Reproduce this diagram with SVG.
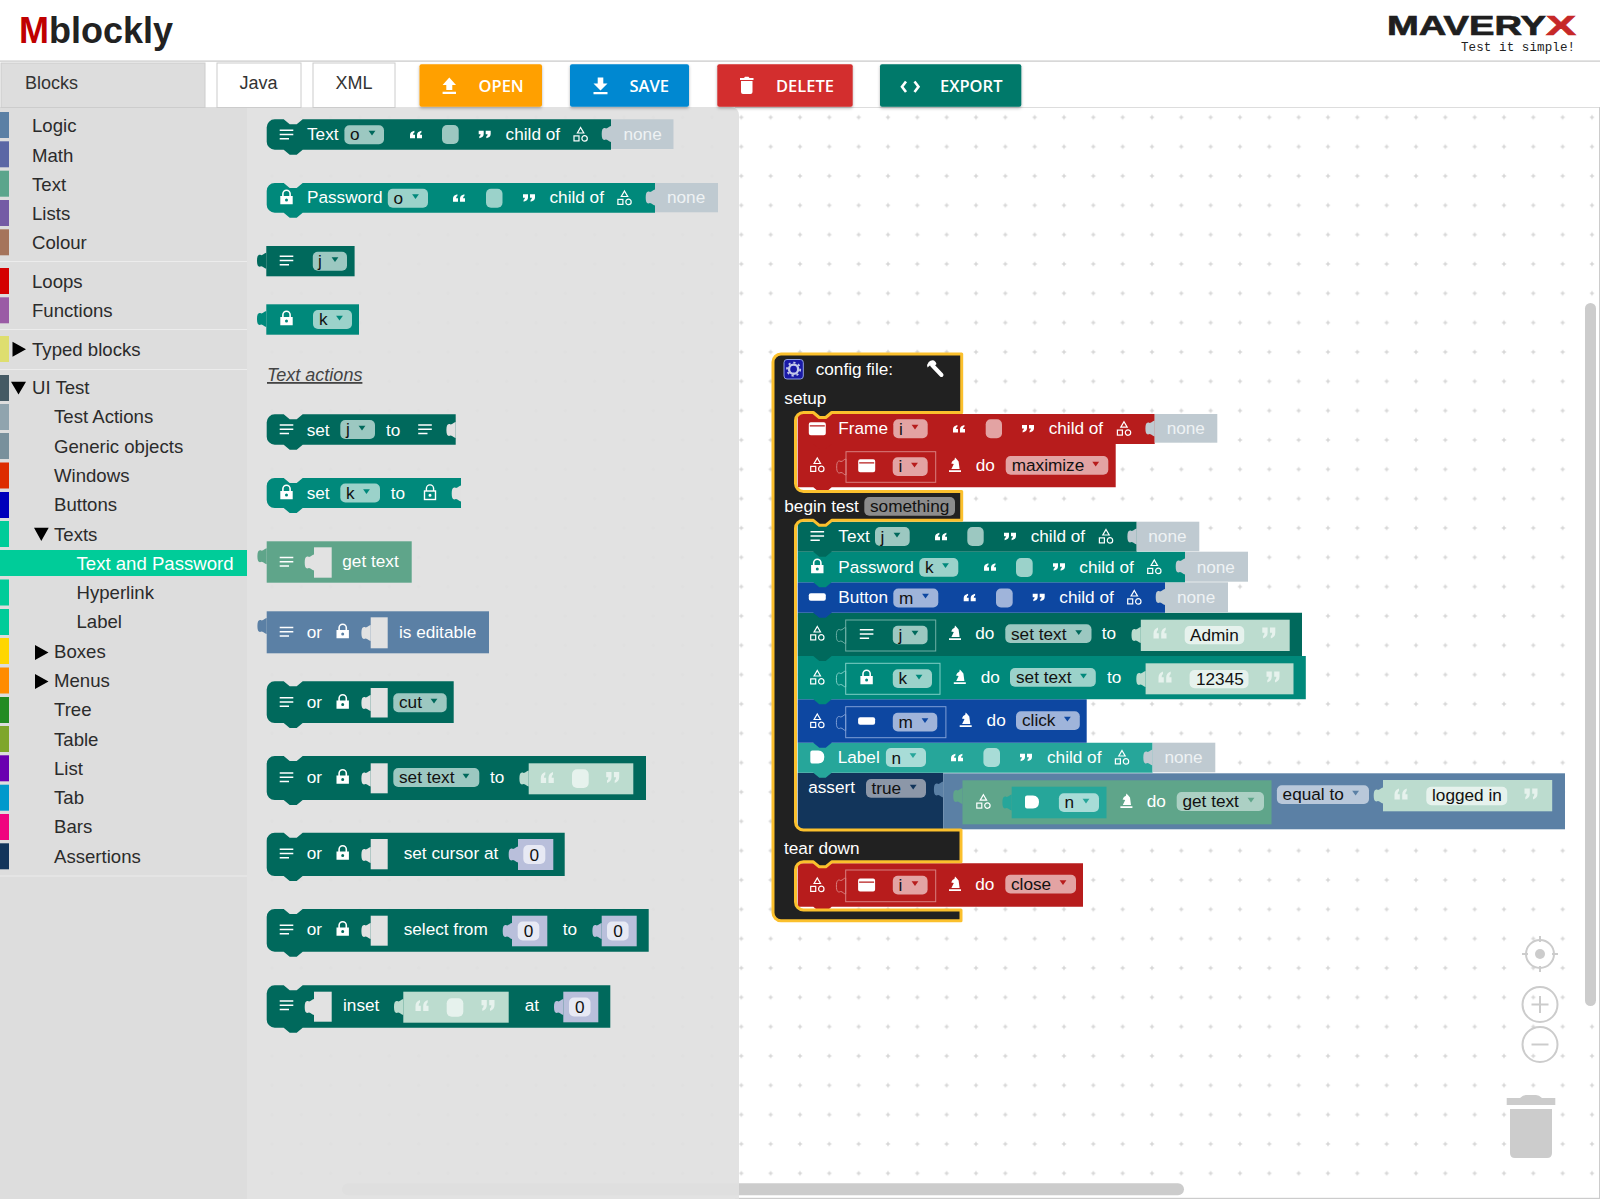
<svg xmlns="http://www.w3.org/2000/svg" width="1600" height="1199" viewBox="0 0 1600 1199">
<style>
text{font-family:"Liberation Sans",Arial,sans-serif;font-size:17.2px}
.w{fill:#fff}.k{fill:#111}.n{fill:#eef2f4}
.t{font-size:18.6px;fill:#2b2b2b}
.tab{font-size:18px;fill:#333}
.btn{font-family:"Open Sans","Liberation Sans",sans-serif;font-size:16.5px;font-weight:600;fill:#fff}
.fT{fill:#9cc8c1}.fP{fill:#9bd2ca}.fR{fill:#e3a3a3}.fB{fill:#9fb4da}.fL{fill:#a8dcd7}.fG{fill:#acd0c4}.fS{fill:#b9c8da}
.cT{fill:#00695c}.cP{fill:#00897b}.cR{fill:#b71c1c}.cB{fill:#0d47a1}.cL{fill:#26a69a}.cA{fill:#12355b}.cG{fill:#5fa58a}.cV{fill:#5b80a5}
.none{fill:#bfcad1}.lit{fill:#bcdccf}.litf{fill:#e6f2ed}.num{fill:#b9bfdb}.numf{fill:#e7e9f4}
.hole{fill:#e2e2e2}
.box{fill:none;stroke-width:1}
.sb{fill:#ccc}
.zc{fill:none;stroke:#ccc;stroke-width:2}
</style>
<defs>
<pattern id="grid" width="29.333" height="29.333" patternUnits="userSpaceOnUse" patternTransform="translate(-6.667,-14.667)">
<path d="M14.67,12.5v4.33M12.5,14.67h4.33" stroke="#ccc" stroke-width="1" fill="none"/>
</pattern>
<filter id="sh" x="-5%" y="-10%" width="110%" height="125%"><feDropShadow dx="0" dy="1.5" stdDeviation="1.5" flood-color="#000" flood-opacity=".3"/></filter>
<path id="tb" d="M0,0C-2,0 -3,2.5 -5,2.5C-8,1 -9.3,3 -9.3,8C-9.3,13 -8,15 -5,13.5C-3,13.5 -2,16 0,16Z"/>
<path id="tri" d="M-3.4,-2.2H3.4L0,2.6Z"/>
<g id="i-lines" fill="none" stroke="#fff" stroke-width="1.5"><path d="M-6.8,-4.2H6.8M-6.8,0H6.8M-6.8,4.2H2.5"/></g>
<path id="i-lock" fill="#fff" fill-rule="evenodd" d="M-6.2,-1H-4.4V-3.2A4.4,4.4 0 0 1 4.4,-3.2V-1H6.2V7.2H-6.2ZM-2.8,-1H2.8V-3.2A2.8,2.8 0 0 0 -2.8,-3.2ZM0,1.6A1.5,1.5 0 1 0 0,4.6A1.5,1.5 0 1 0 0,1.6Z"/>
<g id="i-lock2" fill="none" stroke="#fff" stroke-width="1.4"><rect x="-5.5" y="-1.5" width="11" height="8.5"/><path d="M-3.6,-1.5V-4A3.6,3.6 0 0 1 3.6,-4V-1.5"/><circle cx="0" cy="2.8" r=".8" fill="#fff"/></g>
<g id="i-tree" fill="none" stroke="#fff" stroke-width="1.2"><path d="M0,-7L3.2,-1.5H-3.2Z"/><rect x="-6.6" y="1.4" width="5" height="5"/><circle cx="4" cy="3.9" r="2.7"/></g>
<path id="i-win" fill="#fff" fill-rule="evenodd" d="M-6.5,-6.5H6.5A2,2 0 0 1 8.5,-4.5V4.5A2,2 0 0 1 6.5,6.5H-6.5A2,2 0 0 1 -8.5,4.5V-4.5A2,2 0 0 1 -6.5,-6.5ZM-7.5,-3.5V-2.3H7.5V-3.5Z"/>
<rect id="i-btn" x="-8.5" y="-3.8" width="17" height="7.6" rx="2" fill="#fff"/>
<path id="i-lab" fill="#fff" d="M-5,-6.5H1Q7,-6 7,0Q7,6 1,6.5H-5Q-7,6.5 -7,4.5V-4.5Q-7,-6.5 -5,-6.5Z"/>
<path id="i-ch" fill="#fff" d="M-6,5.2H6V7H-6ZM-3.6,4L-1.2,-1L-3.8,-1.6L-2.5,-4L-0.5,-5.2L0,-7.5L1.5,-6L3.6,-3.5L4.6,4Z"/>
<path id="qo" d="M-6.5,5.5V0.5Q-6.5,-4 -2,-5.5V-3Q-3.5,-2 -3.3,0.3H-1.2V5.5ZM1.2,5.5V0.5Q1.2,-4 5.7,-5.5V-3Q4.2,-2 4.4,0.3H6.5V5.5Z"/>
<path id="qc" d="M6.5,-5.5V-0.5Q6.5,4 2,5.5V3Q3.5,2 3.3,-0.3H1.2V-5.5ZM-1.2,-5.5V-0.5Q-1.2,4 -5.7,5.5V3Q-4.2,2 -4.4,-0.3H-6.5V-5.5Z"/>
<path id="qs" fill="#fff" d="M-6,3.8V0.4Q-6,-2.8 -1.6,-3.8V-2Q-3,-1.4 -2.9,0.2H-1V3.8ZM1,3.8V0.4Q1,-2.8 5.4,-3.8V-2Q4,-1.4 4.1,0.2H6V3.8Z"/>
<path id="qe" fill="#fff" d="M6,-3.8V-0.4Q6,2.8 1.6,3.8V2Q3,1.4 2.9,-0.2H1V-3.8ZM-1,-3.8V-0.4Q-1,2.8 -5.4,3.8V2Q-4,1.4 -4.1,-0.2H-6V-3.8Z"/>
</defs>

<rect id="page" width="1600" height="1199" fill="#fff"/>

<g id="header">
<text x="19" y="43" font-weight="700" style="font-size:36px" fill="#222"><tspan fill="#c00000">M</tspan>blockly</text>
<g id="logo">
<text x="1387" y="34.6" style="font-size:28px" font-weight="700" fill="#1f1f1f" stroke="#1f1f1f" stroke-width=".7" textLength="159" lengthAdjust="spacingAndGlyphs">MAVERY</text>
<text x="1546" y="34.6" style="font-size:28px" font-weight="700" fill="#c62828" stroke="#c62828" stroke-width=".7" textLength="30" lengthAdjust="spacingAndGlyphs">X</text>
<text x="1461" y="51" style="font-family:'Liberation Mono',monospace;font-size:12.5px" fill="#222" textLength="114">Test it simple!</text>
</g>
<rect y="60.5" width="1600" height="1.2" fill="#c8c8c8"/>
</g>

<g id="workspace">
<rect x="247" y="107" width="1353" height="1092" fill="#fff"/>
<rect x="247" y="107" width="1353" height="1092" fill="url(#grid)"/>
<rect x="735" y="107" width="865" height="1" fill="#ddd"/>
<rect x="735" y="1197.8" width="865" height="1.2" fill="#ccc"/>
<rect x="1599" y="107" width="1" height="1092" fill="#ccc"/>
</g>

<g id="trash-zoom">
<path fill="#ccc" d="M1506.7,1098H1520Q1523,1095 1526,1095H1536Q1539,1095 1542,1098H1555.3V1105H1506.7Z"/>
<path fill="#ccc" d="M1510,1109H1552V1153Q1552,1158 1547,1158H1515Q1510,1158 1510,1153Z"/>
<circle class="zc" cx="1540" cy="954" r="14"/><circle cx="1540" cy="954" r="5" fill="#ccc"/>
<path class="zc" d="M1540,936v6M1540,966v6M1522,954h6M1552,954h6" stroke-width="1.6"/>
<circle class="zc" cx="1540" cy="1004.5" r="17.5"/><path class="zc" d="M1531.5,1004.5h17M1540,996v17"/>
<circle class="zc" cx="1540" cy="1044.5" r="17.5"/><path class="zc" d="M1531.5,1044.5h17"/>
</g>

<rect id="vscroll" class="sb" x="1585" y="303" width="11" height="703" rx="5.5"/>
<rect id="hscroll" class="sb" x="342" y="1183.3" width="842" height="12" rx="6"/>

<path id="flyout" d="M247,107H731a8,8 0 0 1 8,8V1199H247Z" fill="#e0e0e0" fill-opacity=".93"/>

<g id="toolbox">
<rect y="107" width="247" height="1092" fill="#ddd"/>
<rect y="261" width="247" height="1" fill="#ececec"/><rect y="329" width="247" height="1" fill="#ececec"/><rect y="369" width="247" height="1" fill="#ececec"/><rect y="875.5" width="247" height="1" fill="#ececec"/>
<rect y="112" width="9" height="26" fill="#5b80a5"/><rect y="141.3" width="9" height="26" fill="#5b67a5"/><rect y="170.7" width="9" height="26" fill="#5ba58c"/><rect y="200" width="9" height="26" fill="#745ba5"/><rect y="229.3" width="9" height="26" fill="#a5745b"/>
<rect y="268" width="9" height="26" fill="#d40000"/><rect y="297.3" width="9" height="26" fill="#9a5ba5"/>
<rect y="336" width="9" height="26" fill="#dede6f"/>
<rect y="375" width="9" height="26" fill="#455a64"/><rect y="404" width="9" height="26" fill="#90a4ae"/><rect y="433" width="9" height="26" fill="#78909c"/><rect y="462.5" width="9" height="26" fill="#dd2c00"/><rect y="492" width="9" height="26" fill="#0000bb"/><rect y="521" width="9" height="26" fill="#00cc99"/>
<rect y="550" width="247" height="26" fill="#00cc99"/>
<rect y="579.5" width="9" height="26" fill="#00cc99"/><rect y="609" width="9" height="26" fill="#00cc99"/><rect y="638" width="9" height="26" fill="#ffd600"/><rect y="667.5" width="9" height="26" fill="#ff8c00"/><rect y="697" width="9" height="26" fill="#228b22"/><rect y="726" width="9" height="26" fill="#7ea62b"/><rect y="755.3" width="9" height="26" fill="#6a00b0"/><rect y="784.7" width="9" height="26" fill="#0099cc"/><rect y="814" width="9" height="26" fill="#f0047f"/><rect y="843.3" width="9" height="26" fill="#12355b"/>
<path d="M12.5,341.7L26,349.2L12.5,356.7Z M11,381.7H26L18.5,394.5Z M34,527.7H48.7L41.3,541Z M35,645L48.5,652.5L35,660Z M35,674L48.5,681.5L35,689Z" fill="#000"/>
<text class="t" x="32" y="132">Logic</text><text class="t" x="32" y="161.5">Math</text><text class="t" x="32" y="190.7">Text</text><text class="t" x="32" y="220">Lists</text><text class="t" x="32" y="249.3">Colour</text>
<text class="t" x="32" y="288">Loops</text><text class="t" x="32" y="317.3">Functions</text><text class="t" x="32" y="355.7">Typed blocks</text><text class="t" x="32" y="394.3">UI Test</text>
<text class="t" x="54" y="423.3">Test Actions</text><text class="t" x="54" y="452.7">Generic objects</text><text class="t" x="54" y="482">Windows</text><text class="t" x="54" y="511">Buttons</text><text class="t" x="54" y="540.5">Texts</text>
<text class="t" x="76.5" y="570" style="fill:#fff">Text and Password</text><text class="t" x="76.5" y="599">Hyperlink</text><text class="t" x="76.5" y="628.3">Label</text>
<text class="t" x="54" y="657.5">Boxes</text><text class="t" x="54" y="686.8">Menus</text><text class="t" x="54" y="716">Tree</text><text class="t" x="54" y="745.5">Table</text><text class="t" x="54" y="775">List</text><text class="t" x="54" y="804">Tab</text><text class="t" x="54" y="833.3">Bars</text><text class="t" x="54" y="862.5">Assertions</text>
</g>

<g id="tabs">
<rect x="1" y="63" width="204" height="44.5" fill="#ddd" stroke="#ccc"/><text class="tab" x="25" y="89">Blocks</text>
<rect x="217" y="63" width="84" height="44.5" fill="#fff" stroke="#ccc"/><text class="tab" x="258.5" y="89" text-anchor="middle">Java</text>
<rect x="313" y="63" width="82" height="44.5" fill="#fff" stroke="#ccc"/><text class="tab" x="354" y="89" text-anchor="middle">XML</text>
</g>
<g id="buttons">
<g id="btn-open"><rect x="419.5" y="64.3" width="122.5" height="42.4" rx="2" fill="#ffa000" filter="url(#sh)"/><path d="M449.3,77.5L456,85H452.3V90H446.3V85H442.6ZM442.6,91.7H456V94H442.6Z" fill="#fff"/><text class="btn" x="478.5" y="91.5">OPEN</text></g>
<g id="btn-save"><rect x="570" y="64.3" width="119" height="42.4" rx="2" fill="#0288d1" filter="url(#sh)"/><path d="M597.7,77.5H603.3V83.5H607.5L600.5,90.5L593.5,83.5H597.7ZM593.5,92H607.5V94.3H593.5Z" fill="#fff"/><text class="btn" x="629.5" y="91.5">SAVE</text></g>
<g id="btn-delete"><rect x="717.3" y="64.3" width="135.4" height="42.4" rx="2" fill="#d32f2f" filter="url(#sh)"/><path d="M741,81H752.5V92Q752.5,94 750.5,94H743Q741,94 741,92ZM740,78H744L745,76.7H748.5L749.5,78H753.5V80H740Z" fill="#fff"/><text class="btn" x="776" y="91.5">DELETE</text></g>
<g id="btn-export"><rect x="880" y="64.3" width="141.3" height="42.4" rx="2" fill="#00796b" filter="url(#sh)"/><path d="M906,81.5L902,86.7L906,92M914.5,81.5L918.5,86.7L914.5,92" fill="none" stroke="#fff" stroke-width="2.6"/><text class="btn" x="940" y="91.5">EXPORT</text></g>
</g>

<g id="flyout-blocks">
<g id="f-text">
<path class="cT" d="M266.7,127.3a8,8 0 0 1 8,-8h9l6,5h7l6,-5H611V149.7H302.7l-6,5h-7l-6,-5H274.7a8,8 0 0 1 -8,-8z"/>
<rect class="none" x="611" y="119.3" width="62.5" height="29.7"/><use href="#tb" x="611" y="126" class="none"/>
<use href="#i-lines" x="286.5" y="134.5"/><text class="w" x="307" y="139.5">Text</text>
<rect class="fT" x="344.4" y="125.3" width="39.6" height="19" rx="5"/><text class="k" x="350" y="140">o</text><use href="#tri" x="372" y="133" class="cT"/>
<use href="#qs" x="416" y="134.5"/><rect class="fT" x="442" y="125" width="16.7" height="19" rx="5"/><use href="#qe" x="484.7" y="134.5"/>
<text class="w" x="505.6" y="139.5">child of</text><use href="#i-tree" x="580.6" y="134.5"/><text class="n" x="623.5" y="139.5">none</text>
</g>
<g id="f-password">
<path class="cP" d="M266.7,191a8,8 0 0 1 8,-8h9l6,5h7l6,-5H655V212.7H302.7l-6,5h-7l-6,-5H274.7a8,8 0 0 1 -8,-8z"/>
<rect class="none" x="655" y="183" width="63" height="29.3"/><use href="#tb" x="655" y="189.5" class="none"/>
<use href="#i-lock" x="286.5" y="197"/><text class="w" x="307" y="203">Password</text>
<rect class="fP" x="387.8" y="188.7" width="40.2" height="19" rx="5"/><text class="k" x="393.5" y="203.5">o</text><use href="#tri" x="415.5" y="196.5" class="cP"/>
<use href="#qs" x="459" y="198"/><rect class="fP" x="486" y="188.7" width="16.5" height="19" rx="5"/><use href="#qe" x="529" y="198"/>
<text class="w" x="549.5" y="203">child of</text><use href="#i-tree" x="624.5" y="198"/><text class="n" x="667" y="203">none</text>
</g>
<g id="f-j"><use href="#tb" x="266.3" y="252.7" class="cT"/><rect class="cT" x="266.3" y="246" width="88.3" height="30.3"/><use href="#i-lines" x="286.5" y="260.5"/><rect class="fT" x="312.8" y="251.7" width="34.2" height="19" rx="5"/><text class="k" x="318" y="266.5">j</text><use href="#tri" x="335" y="259.5" class="cT"/></g>
<g id="f-k"><use href="#tb" x="266.3" y="311" class="cP"/><rect class="cP" x="266.3" y="304.3" width="92.7" height="30.4"/><use href="#i-lock" x="286.5" y="318"/><rect class="fP" x="313" y="310" width="39" height="19" rx="5"/><text class="k" x="319" y="325">k</text><use href="#tri" x="339.5" y="318" class="cP"/></g>
<text id="f-caption" x="267" y="381" style="font-size:18px;font-style:italic;text-decoration:underline" fill="#444">Text actions</text>
<g id="f-set-j">
<path class="cT" d="M266.7,422.3a8,8 0 0 1 8,-8h9l6,5h7l6,-5H455.7V444.7H302.7l-6,5h-7l-6,-5H274.7a8,8 0 0 1 -8,-8z"/>
<use href="#tb" x="455.7" y="422" fill="#e1e1e1"/>
<use href="#i-lines" x="286.5" y="429.3"/><text class="w" x="306.7" y="435.5">set</text>
<rect class="fT" x="340.3" y="420" width="34.7" height="19" rx="5"/><text class="k" x="346" y="435">j</text><use href="#tri" x="362" y="428" class="cT"/>
<text class="w" x="386" y="435.5">to</text><use href="#i-lines" x="425" y="429.3"/>
</g>
<g id="f-set-k">
<path class="cP" d="M266.7,486a8,8 0 0 1 8,-8h9l6,5h7l6,-5H461V508H302.7l-6,5h-7l-6,-5H274.7a8,8 0 0 1 -8,-8z"/>
<use href="#tb" x="461" y="485.5" fill="#e1e1e1"/>
<use href="#i-lock" x="286.5" y="492"/><text class="w" x="306.7" y="498.5">set</text>
<rect class="fP" x="340.3" y="483.5" width="39.7" height="19" rx="5"/><text class="k" x="346" y="498.5">k</text><use href="#tri" x="366.5" y="491.5" class="cP"/>
<text class="w" x="390.7" y="498.5">to</text><use href="#i-lock2" x="430" y="492.5"/>
</g>
<g id="f-get-text">
<use href="#tb" x="266.7" y="548.3" class="cG"/><rect class="cG" x="266.7" y="541.3" width="145" height="41.4"/>
<use href="#i-lines" x="286.5" y="561.7"/><rect class="hole" x="314" y="547.3" width="17.7" height="30.4"/><use href="#tb" x="314" y="554.5" class="hole"/>
<text class="w" x="342.3" y="567">get text</text>
</g>
<g id="f-is-editable">
<use href="#tb" x="266.7" y="618" class="cV"/><rect class="cV" x="266.7" y="611.3" width="222.3" height="42"/>
<use href="#i-lines" x="286.5" y="631.7"/><text class="w" x="306.7" y="637.5">or</text><use href="#i-lock" x="342.7" y="631"/>
<rect class="hole" x="370.7" y="617.3" width="17" height="31"/><use href="#tb" x="370.7" y="625" class="hole"/>
<text class="w" x="399" y="637.5">is editable</text>
</g>
<g id="f-cut">
<path class="cT" d="M266.7,689.3a8,8 0 0 1 8,-8h9l6,5h7l6,-5H453.7V723H302.7l-6,5h-7l-6,-5H274.7a8,8 0 0 1 -8,-8z"/>
<use href="#i-lines" x="286.5" y="702"/><text class="w" x="306.7" y="708">or</text><use href="#i-lock" x="342.7" y="701.5"/>
<rect class="hole" x="370.7" y="688" width="17" height="29.5"/><use href="#tb" x="370.7" y="695" class="hole"/>
<rect class="fT" x="393.3" y="693.3" width="53.4" height="19" rx="5"/><text class="k" x="399" y="708">cut</text><use href="#tri" x="434" y="701" class="cT"/>
</g>
<g id="f-set-text">
<path class="cT" d="M266.7,764a8,8 0 0 1 8,-8h9l6,5h7l6,-5H646V800H302.7l-6,5h-7l-6,-5H274.7a8,8 0 0 1 -8,-8z"/>
<use href="#i-lines" x="286.5" y="777.3"/><text class="w" x="306.7" y="783">or</text><use href="#i-lock" x="342.7" y="776.5"/>
<rect class="hole" x="370.7" y="763.3" width="17" height="30"/><use href="#tb" x="370.7" y="770.5" class="hole"/>
<rect class="fT" x="393.3" y="768" width="86" height="19" rx="5"/><text class="k" x="399" y="783">set text</text><use href="#tri" x="466" y="776" class="cT"/>
<text class="w" x="490" y="783">to</text>
<rect class="lit" x="528.7" y="763.3" width="104.6" height="31"/><use href="#tb" x="528.7" y="770.5" class="lit"/>
<use href="#qo" x="547.3" y="777.5" class="litf"/><rect class="litf" x="572" y="769.3" width="16.7" height="18.7" rx="5"/><use href="#qc" x="612.7" y="777.5" class="litf"/>
</g>
<g id="f-set-cursor">
<path class="cT" d="M266.7,840.7a8,8 0 0 1 8,-8h9l6,5h7l6,-5H564.7V876H302.7l-6,5h-7l-6,-5H274.7a8,8 0 0 1 -8,-8z"/>
<use href="#i-lines" x="286.5" y="853.5"/><text class="w" x="306.7" y="859">or</text><use href="#i-lock" x="342.7" y="852.5"/>
<rect class="hole" x="370.7" y="839" width="17" height="30.3"/><use href="#tb" x="370.7" y="847" class="hole"/>
<text class="w" x="403.7" y="859">set cursor at</text>
<rect class="num" x="518" y="839" width="35.3" height="31"/><use href="#tb" x="518" y="846.5" class="num"/><rect class="numf" x="523.3" y="845" width="22" height="19" rx="5"/><text class="k" x="534.3" y="860.5" text-anchor="middle">0</text>
</g>
<g id="f-select">
<path class="cT" d="M266.7,917a8,8 0 0 1 8,-8h9l6,5h7l6,-5H648.7V951.7H302.7l-6,5h-7l-6,-5H274.7a8,8 0 0 1 -8,-8z"/>
<use href="#i-lines" x="286.5" y="929.5"/><text class="w" x="306.7" y="935">or</text><use href="#i-lock" x="342.7" y="928.5"/>
<rect class="hole" x="370.7" y="915.7" width="17" height="30"/><use href="#tb" x="370.7" y="923" class="hole"/>
<text class="w" x="403.7" y="935">select from</text>
<rect class="num" x="512" y="915.7" width="35.3" height="30.6"/><use href="#tb" x="512" y="923" class="num"/><rect class="numf" x="517.7" y="921.5" width="21.6" height="19" rx="5"/><text class="k" x="528.5" y="937" text-anchor="middle">0</text>
<text class="w" x="562.7" y="935">to</text>
<rect class="num" x="601.7" y="915.7" width="35" height="30.6"/><use href="#tb" x="601.7" y="923" class="num"/><rect class="numf" x="607" y="921.5" width="21.6" height="19" rx="5"/><text class="k" x="618" y="937" text-anchor="middle">0</text>
</g>
<g id="f-inset">
<path class="cT" d="M266.7,993.3a8,8 0 0 1 8,-8h9l6,5h7l6,-5H610.3V1027.7H302.7l-6,5h-7l-6,-5H274.7a8,8 0 0 1 -8,-8z"/>
<use href="#i-lines" x="286.5" y="1005.3"/><rect class="hole" x="314" y="991.7" width="17.7" height="30"/><use href="#tb" x="314" y="999" class="hole"/>
<text class="w" x="343" y="1011">inset</text>
<rect class="lit" x="403.3" y="991.7" width="105.4" height="31"/><use href="#tb" x="403.3" y="999" class="lit"/>
<use href="#qo" x="422" y="1005.5" class="litf"/><rect class="litf" x="446.7" y="998.3" width="16.6" height="18.4" rx="5"/><use href="#qc" x="488" y="1005.5" class="litf"/>
<text class="w" x="524.7" y="1011">at</text>
<rect class="num" x="563.3" y="991.7" width="35" height="30.6"/><use href="#tb" x="563.3" y="999" class="num"/><rect class="numf" x="569" y="997.5" width="21.5" height="19" rx="5"/><text class="k" x="579.7" y="1013" text-anchor="middle">0</text>
</g>
</g>

<g id="config-stack">
<g id="w-close">
<path class="cR" d="M797.7,863.3H1083V906.7H831.7l-6,5h-6.4l-6,-5H797.7Z"/>
<use href="#i-tree" x="817.3" y="885"/><use href="#tb" x="845.7" y="878" fill="none" stroke="#d87f7f"/><rect class="box" x="845.7" y="870" width="90" height="31.7" stroke="#d87f7f"/>
<use href="#i-win" x="866.6" y="885"/><rect class="fR" x="892.8" y="875.7" width="34.8" height="18.7" rx="5"/><text class="k" x="898.5" y="890.5">i</text><use href="#tri" x="915" y="883.5" class="cR"/>
<use href="#i-ch" x="955" y="884"/><text class="w" x="975.3" y="890">do</text>
<rect class="fR" x="1005.3" y="874.7" width="70.7" height="18.7" rx="5"/><text class="k" x="1011" y="890">close</text><use href="#tri" x="1063" y="882.5" class="cR"/>
</g>

<g id="w-assert">
<path class="cA" d="M797.7,772.7H943.2V829.3H831.7l-6,5h-6.4l-6,-5H797.7Z"/>
<rect class="cV" x="943.2" y="773.3" width="621.8" height="56"/><use href="#tb" x="943.2" y="781.5" class="cV"/>
<text class="w" x="808.2" y="793.3">assert</text>
<rect x="866" y="779" width="60" height="18.7" rx="5" fill="#8c97a8"/><text class="k" x="871.5" y="794">true</text><use href="#tri" x="913.2" y="787" class="cA"/>
<g id="w-get-text">
<rect class="cG" x="962.5" y="780.3" width="309" height="44"/><use href="#tb" x="962.5" y="788" class="cG"/>
<use href="#i-tree" x="983.4" y="801.7"/>
<rect class="cL" x="1011.7" y="786.7" width="94.8" height="31.6"/><use href="#tb" x="1011.7" y="794.5" class="cL"/>
<use href="#i-lab" x="1032" y="802"/><rect class="fL" x="1058.9" y="793.3" width="40.1" height="18.7" rx="5"/><text class="k" x="1064.5" y="808">n</text><use href="#tri" x="1086" y="801" class="cL"/>
<use href="#i-ch" x="1126.4" y="801"/><text class="w" x="1146.7" y="807">do</text>
<rect class="fG" x="1176.7" y="792" width="87.3" height="19" rx="5"/><text class="k" x="1182.5" y="807">get text</text><use href="#tri" x="1251" y="800" class="cG"/>
</g>
<rect class="fS" x="1276.9" y="785.3" width="92.1" height="18.7" rx="5"/><text class="k" x="1282.6" y="800">equal to</text><use href="#tri" x="1355.6" y="793" class="cV"/>
<rect class="lit" x="1383" y="780" width="169.2" height="31.3"/><use href="#tb" x="1383" y="787.5" class="lit"/>
<use href="#qo" x="1401" y="794" class="litf"/><rect class="litf" x="1426.3" y="786.7" width="80.9" height="18.5" rx="5"/><text class="k" x="1432" y="801">logged in</text><use href="#qc" x="1531" y="794" class="litf"/>
</g>

<g id="w-label">
<path class="cL" d="M797.7,742.7H1152.6V772.7H831.7l-6,5h-6.4l-6,-5H797.7Z"/>
<rect class="none" x="1152.6" y="742.7" width="62.7" height="29.6"/><use href="#tb" x="1152.6" y="749.5" class="none"/>
<use href="#i-lab" x="817.3" y="757"/><text class="w" x="837.7" y="763">Label</text>
<rect class="fL" x="885.9" y="748" width="40.1" height="19" rx="5"/><text class="k" x="891.5" y="763.5">n</text><use href="#tri" x="913" y="755.5" class="cL"/>
<use href="#qs" x="957" y="757.5"/><rect class="fL" x="983.4" y="748" width="16.6" height="19" rx="5"/><use href="#qe" x="1026" y="757.5"/>
<text class="w" x="1047" y="763">child of</text><use href="#i-tree" x="1122" y="757.5"/><text class="n" x="1164.4" y="763">none</text>
</g>

<g id="w-click">
<path class="cB" d="M797.7,699.3H1086.7V742.7H831.7l-6,5h-6.4l-6,-5H797.7Z"/>
<use href="#i-tree" x="817.3" y="721"/><use href="#tb" x="845.7" y="714.5" fill="none" stroke="#7f9fd6"/><rect class="box" x="845.7" y="706.7" width="100.2" height="31" stroke="#7f9fd6"/>
<use href="#i-btn" x="866.6" y="721"/><rect class="fB" x="892.8" y="712.7" width="44.5" height="18.7" rx="5"/><text class="k" x="898.5" y="727.5">m</text><use href="#tri" x="925" y="720.5" class="cB"/>
<use href="#i-ch" x="965.7" y="720"/><text class="w" x="986.6" y="726">do</text>
<rect class="fB" x="1016" y="711.3" width="63.8" height="18.7" rx="5"/><text class="k" x="1022" y="726">click</text><use href="#tri" x="1067.4" y="719" class="cB"/>
</g>

<g id="w-set-k">
<path class="cP" d="M797.7,656H1305.8V699.3H831.7l-6,5h-6.4l-6,-5H797.7Z"/>
<use href="#i-tree" x="817.3" y="677.5"/><use href="#tb" x="845.7" y="671" fill="none" stroke="#7fcfc6"/><rect class="box" x="845.7" y="663.3" width="94.3" height="31" stroke="#7fcfc6"/>
<use href="#i-lock" x="866.6" y="677"/><rect class="fP" x="892.8" y="669.3" width="39.2" height="18.7" rx="5"/><text class="k" x="898.5" y="684">k</text><use href="#tri" x="919" y="677" class="cP"/>
<use href="#i-ch" x="959.8" y="677"/><text class="w" x="980.7" y="682.7">do</text>
<rect class="fP" x="1010" y="668" width="85.8" height="18.7" rx="5"/><text class="k" x="1016" y="683">set text</text><use href="#tri" x="1083.5" y="676" class="cP"/>
<text class="w" x="1107" y="682.7">to</text>
<rect class="lit" x="1145.6" y="663.3" width="147.9" height="31"/><use href="#tb" x="1145.6" y="671" class="lit"/>
<use href="#qo" x="1165" y="677" class="litf"/><rect class="litf" x="1189.6" y="670" width="58.9" height="18.3" rx="5"/><text class="k" x="1196" y="684.5">12345</text><use href="#qc" x="1273" y="677" class="litf"/>
</g>

<g id="w-set-j">
<path class="cT" d="M797.7,612.7H1302V656H831.7l-6,5h-6.4l-6,-5H797.7Z"/>
<use href="#i-tree" x="817.3" y="633.5"/><use href="#tb" x="845.7" y="627.5" fill="none" stroke="#6fb0a6"/><rect class="box" x="845.7" y="620" width="90" height="31" stroke="#6fb0a6"/>
<use href="#i-lines" x="866.6" y="634"/><rect class="fT" x="892.8" y="625.7" width="34.8" height="18.5" rx="5"/><text class="k" x="898.5" y="640.5">j</text><use href="#tri" x="915" y="633" class="cT"/>
<use href="#i-ch" x="955" y="633"/><text class="w" x="975.3" y="639.3">do</text>
<rect class="fT" x="1005.3" y="624.3" width="86.2" height="18.7" rx="5"/><text class="k" x="1011" y="639.5">set text</text><use href="#tri" x="1078.7" y="632.5" class="cT"/>
<text class="w" x="1101.7" y="639.3">to</text>
<rect class="lit" x="1140.8" y="619.7" width="148.9" height="31.3"/><use href="#tb" x="1140.8" y="627" class="lit"/>
<use href="#qo" x="1160" y="633" class="litf"/><rect class="litf" x="1184.7" y="626" width="59.5" height="18.3" rx="5"/><text class="k" x="1190" y="640.7">Admin</text><use href="#qc" x="1268.8" y="633" class="litf"/>
</g>

<g id="w-button">
<path class="cB" d="M797.7,582.3H1165V612.7H831.7l-6,5h-6.4l-6,-5H797.7Z"/>
<rect class="none" x="1165" y="582.3" width="63" height="30"/><use href="#tb" x="1165" y="589" class="none"/>
<use href="#i-btn" x="817.3" y="597"/><text class="w" x="838.3" y="603.3">Button</text>
<rect class="fB" x="893.3" y="588.5" width="45" height="19" rx="5"/><text class="k" x="899" y="604">m</text><use href="#tri" x="925.5" y="596" class="cB"/>
<use href="#qs" x="969.7" y="597.5"/><rect class="fB" x="996" y="588.5" width="16.7" height="19" rx="5"/><use href="#qe" x="1038.7" y="597.5"/>
<text class="w" x="1059.3" y="603.3">child of</text><use href="#i-tree" x="1134.3" y="597.5"/><text class="n" x="1177" y="603.3">none</text>
</g>

<g id="w-password">
<path class="cP" d="M797.7,551.7H1185V582.3H831.7l-6,5h-6.4l-6,-5H797.7Z"/>
<rect class="none" x="1185" y="551.7" width="63" height="30"/><use href="#tb" x="1185" y="558.5" class="none"/>
<use href="#i-lock" x="817.3" y="566"/><text class="w" x="838.3" y="572.7">Password</text>
<rect class="fP" x="919.3" y="558" width="39" height="18.7" rx="5"/><text class="k" x="925" y="573">k</text><use href="#tri" x="945.5" y="565.5" class="cP"/>
<use href="#qs" x="990" y="567"/><rect class="fP" x="1016" y="558" width="16.7" height="19" rx="5"/><use href="#qe" x="1059" y="567"/>
<text class="w" x="1079.3" y="572.7">child of</text><use href="#i-tree" x="1154.3" y="567"/><text class="n" x="1196.7" y="572.7">none</text>
</g>

<g id="w-text">
<path class="cT" d="M797.7,521.7H1136.7V551.7H831.7l-6,5h-6.4l-6,-5H797.7Z"/>
<rect class="none" x="1136.7" y="521.7" width="62.6" height="29.6"/><use href="#tb" x="1136.7" y="528.5" class="none"/>
<use href="#i-lines" x="817.3" y="536"/><text class="w" x="838.3" y="542">Text</text>
<rect class="fT" x="875" y="527" width="34.7" height="19" rx="5"/><text class="k" x="880.5" y="542.5">j</text><use href="#tri" x="897" y="535" class="cT"/>
<use href="#qs" x="941" y="536.5"/><rect class="fT" x="967.3" y="527" width="16.4" height="19" rx="5"/><use href="#qe" x="1010" y="536.5"/>
<text class="w" x="1030.7" y="542">child of</text><use href="#i-tree" x="1106" y="536.5"/><text class="n" x="1148.3" y="542">none</text>
</g>

<g id="w-maximize">
<path class="cR" d="M797.7,444H1115.7V487.3H831.7l-6,5h-6.4l-6,-5H797.7Z"/>
<use href="#i-tree" x="817.3" y="465"/><use href="#tb" x="846" y="459" fill="none" stroke="#d87f7f"/><rect class="box" x="846" y="451.7" width="89.7" height="30.6" stroke="#d87f7f"/>
<use href="#i-win" x="866.7" y="465.7"/><rect class="fR" x="892.7" y="457.3" width="35" height="18.7" rx="5"/><text class="k" x="898.5" y="472">i</text><use href="#tri" x="914.5" y="465" class="cR"/>
<use href="#i-ch" x="955" y="465"/><text class="w" x="975.7" y="471">do</text>
<rect class="fR" x="1005.7" y="456" width="102.6" height="18.7" rx="5"/><text class="k" x="1011.7" y="471">maximize</text><use href="#tri" x="1095.7" y="464" class="cR"/>
</g>

<g id="w-frame">
<path class="cR" d="M797.7,414H1154.7V444H831.7l-6,5h-6.4l-6,-5H797.7Z"/>
<rect class="none" x="1154.7" y="414" width="62.6" height="28.7"/><use href="#tb" x="1154.7" y="420.5" class="none"/>
<use href="#i-win" x="817.3" y="428.7"/><text class="w" x="838.3" y="434.3">Frame</text>
<rect class="fR" x="893.3" y="419.3" width="34.4" height="19" rx="5"/><text class="k" x="899" y="434.5">i</text><use href="#tri" x="915" y="427" class="cR"/>
<use href="#qs" x="959" y="428.7"/><rect class="fR" x="985.7" y="419.3" width="16.3" height="19" rx="5"/><use href="#qe" x="1028" y="428.7"/>
<text class="w" x="1048.7" y="434.3">child of</text><use href="#i-tree" x="1124" y="428.7"/><text class="n" x="1166.7" y="434.3">none</text>
</g>

<g id="w-config">
<path fill="#212121" stroke="#fbc02d" stroke-width="3" stroke-linejoin="round" d="M773,362a8,8 0 0 1 8,-8H961.7V412.5H831.7l-6,5h-6.4l-6,-5H803.5a8,8 0 0 0 -8,8V483.5a8,8 0 0 0 8,8H961.7V520.3H831.7l-6,5h-6.4l-6,-5H803.5a8,8 0 0 0 -8,8V822a8,8 0 0 0 8,8H961V861.8H831.7l-6,5h-6.4l-6,-5H803.5a8,8 0 0 0 -8,8V902a8,8 0 0 0 8,8H961V920.7H781a8,8 0 0 1 -8,-8Z"/>
<rect x="784" y="359.5" width="19.3" height="19.5" rx="3" fill="#1a1aa6" stroke="#8f9fe0"/>
<circle cx="793.6" cy="369.2" r="4.6" fill="none" stroke="#c5cae9" stroke-width="2.4"/><circle cx="793.6" cy="369.2" r="6.6" fill="none" stroke="#c5cae9" stroke-width="1.8" stroke-dasharray="2.2 2.9"/>
<text class="w" x="815.7" y="375">config file:</text>
<path d="M932,365L941.5,375" stroke="#fff" stroke-width="4" stroke-linecap="round" fill="none"/><path d="M934,360.5A5.5,5.5 0 0 0 927.5,367.5L931,364.5L933.5,367L936.5,364A5.5,5.5 0 0 0 934,360.5Z" fill="#fff"/>
<text class="w" x="784.3" y="404">setup</text>
<text class="w" x="784.3" y="511.7">begin test</text>
<rect x="864.3" y="497" width="90.7" height="18.7" rx="5" fill="#8c8c8c"/><text class="k" x="870" y="512">something</text>
<text class="w" x="784" y="854">tear down</text>
</g>
</g>
</svg>
